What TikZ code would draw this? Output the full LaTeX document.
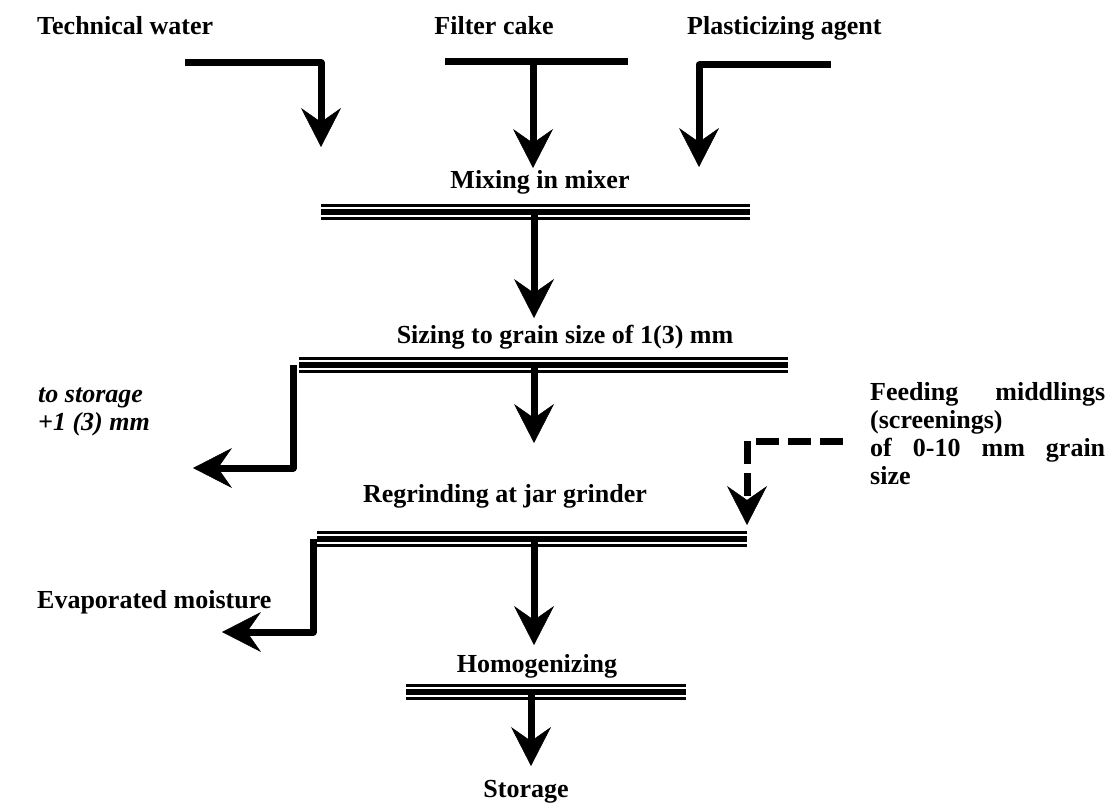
\documentclass[tikz,border=0pt]{standalone}
\usepackage{fontspec}
\setmainfont{Liberation Serif}
\usetikzlibrary{arrows.meta}
\begin{document}
\begin{tikzpicture}[x=1pt,y=-1pt,
  lbl/.style={font=\bfseries\fontsize{26}{28}\selectfont, inner sep=0pt, anchor=base},
  ilbl/.style={font=\bfseries\itshape\fontsize{26}{28}\selectfont, inner sep=0pt, anchor=base west},
  tip/.style={-{Stealth[length=39pt,width=40pt,inset=14pt,line width=0.5pt]}},
  flow/.style={line width=7pt, line join=round, tip},
  feed/.style={line width=7pt, line join=miter, dash pattern=on 23pt off 9pt, tip},
  plain/.style={line width=7pt, line join=round},
  bar/.style={line width=15.2pt, postaction={draw=white,line width=10.8pt}, postaction={draw=black,line width=5.5pt}}]
\useasboundingbox[fill=white] (0,0) rectangle (1107,805);

% labels
\node[lbl, anchor=base west] (tw) at (37,35) {Technical water};
\node[lbl] (fc) at (494,35) {Filter cake};
\node[lbl, anchor=base west] (pa) at (687,35) {Plasticizing agent};
\node[lbl] (mix) at (540,188) {Mixing in mixer};
\node[lbl] (siz) at (565,343) {Sizing to grain size of 1(3) mm};
\node[lbl] (reg) at (505,502) {Regrinding at jar grinder};
\node[lbl] (hom) at (537,672) {Homogenizing};
\node[lbl] (sto) at (526,797) {Storage};
\node[ilbl] (ts1) at (38,402) {to storage};
\node[ilbl] (ts2) at (38,430) {+1 (3) mm};
\node[lbl, anchor=base west] (ev) at (37,608) {Evaporated moisture};
\node[lbl, anchor=base west] (fd1) at (870,400) {\hbox to 235pt{Feeding\hfil middlings}};
\node[lbl, anchor=base west] (fd2) at (870,428) {(screenings)};
\node[lbl, anchor=base west] (fd3) at (870,456) {\hbox to 235pt{of\hfil 0-10\hfil mm\hfil grain}};
\node[lbl, anchor=base west] (fd4) at (870,484) {size};

% coordinates
\coordinate (tw1) at (185,63);  \coordinate (tw2) at (321,63);  \coordinate (tw3) at (321,147);
\coordinate (fc1) at (445,62);  \coordinate (fc2) at (628,62);  \coordinate (fc3) at (533,62); \coordinate (fc4) at (533,168);
\coordinate (pa1) at (831,65);  \coordinate (pa2) at (699,65);  \coordinate (pa3) at (699,167);
\coordinate (mb1) at (321,212); \coordinate (mb2) at (750,212);
\coordinate (md1) at (534,212); \coordinate (md2) at (534,318);
\coordinate (sb1) at (299,365); \coordinate (sb2) at (788,365);
\coordinate (ts3) at (293,365); \coordinate (ts4) at (293,468); \coordinate (ts5) at (193,468);
\coordinate (sd1) at (534,365); \coordinate (sd2) at (534,443);
\coordinate (rb1) at (317,539); \coordinate (rb2) at (747,539);
\coordinate (fe1) at (843,441); \coordinate (fe2) at (747,441); \coordinate (fe3) at (747,525);
\coordinate (ev1) at (313,539); \coordinate (ev2) at (313,632); \coordinate (ev3) at (222,632);
\coordinate (rd1) at (534,539); \coordinate (rd2) at (534,645);
\coordinate (hb1) at (406,692); \coordinate (hb2) at (686,692);
\coordinate (hd1) at (531,692); \coordinate (hd2) at (531,766);

% bars
\draw[bar] (mb1) -- (mb2);
\draw[bar] (sb1) -- (sb2);
\draw[bar] (rb1) -- (rb2);
\draw[bar] (hb1) -- (hb2);

% inputs
\draw[flow] (tw1) -- (tw2) -- (tw3);
\draw[plain] (fc1) -- (fc2);
\draw[flow] (fc3) -- (fc4);
\draw[flow] (pa1) -- (pa2) -- (pa3);

% main flow
\draw[flow] (md1) -- (md2);
\draw[flow] (sd1) -- (sd2);
\draw[flow] (rd1) -- (rd2);
\draw[flow] (hd1) -- (hd2);

% branches
\draw[flow] (ts3) -- (ts4) -- (ts5);
\draw[flow] (ev1) -- (ev2) -- (ev3);
\draw[feed] (fe1) -- (fe2) -- (fe3);
\end{tikzpicture}
\end{document}
